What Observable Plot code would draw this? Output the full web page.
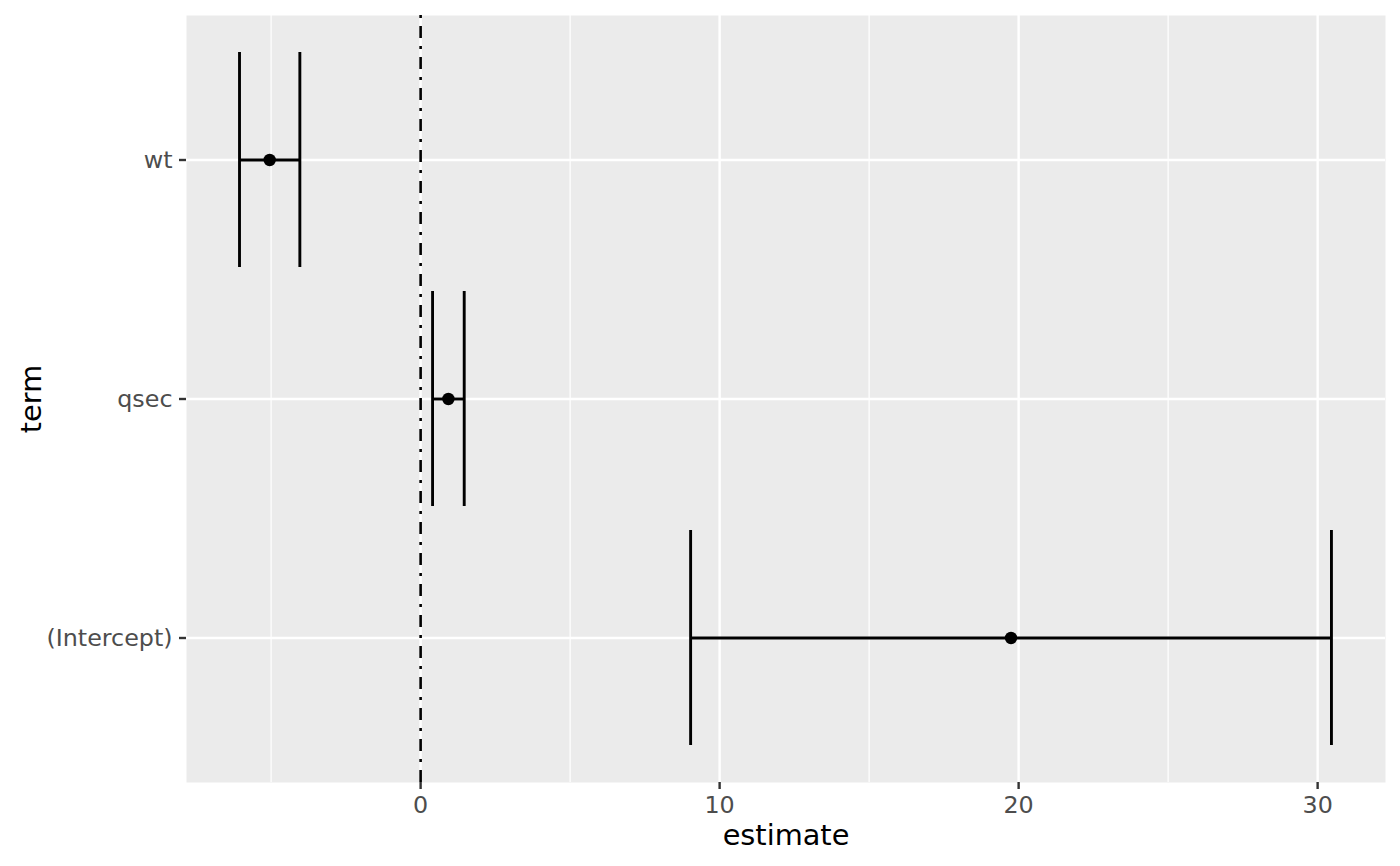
<!DOCTYPE html>
<html>
<head>
<meta charset="utf-8">
<script src="https://cdn.jsdelivr.net/npm/d3@7"></script>
<script src="https://cdn.jsdelivr.net/npm/@observablehq/plot@0.6"></script>
<style>
  body { margin: 0; background: #fff; }
</style>
</head>
<body>
<div id="chart"></div>
<script>
// coeficientes del modelo (term, estimate, intervalo de confianza)
const terms = ["(Intercept)", "wt", "qsec"];
const estimate = [19.746, -5.048, 0.929];
const confLow = [9.030, -6.057, 0.400];
const confHigh = [30.462, -4.039, 1.458];

const termOrder = ["wt", "qsec", "(Intercept)"]; // de arriba hacia abajo
const xTicks = [0, 10, 20, 30];
const xMinor = [-5, 5, 15, 25];

const coefs = terms.map((t, i) => ({
  term: t,
  estimate: estimate[i],
  low: confLow[i],
  high: confHigh[i]
}));

const font = "DejaVu Sans";

const chart = Plot.plot({
  width: 1400,
  height: 866,
  marginLeft: 186,
  marginRight: 15,
  marginTop: 15,
  marginBottom: 84,
  style: { fontFamily: font, background: "#fff" },
  x: { domain: [-7.83, 32.27] },
  y: { type: "band", domain: termOrder, paddingInner: 0.1, paddingOuter: 0.15 },
  marks: [
    Plot.frame({ fill: "#EBEBEB", stroke: null }),
    // grilla
    Plot.ruleX(xMinor, { stroke: "white", strokeWidth: 1.2 }),
    Plot.ruleX(xTicks, { stroke: "white", strokeWidth: 2.4 }),
    Plot.ruleY(termOrder, { y: d => d, stroke: "white", strokeWidth: 2.4 }),
    // linea en cero (dotdash)
    Plot.ruleX([0], { stroke: "black", strokeWidth: 2.6, strokeDasharray: "3,8,12,8" }),
    // barras de error
    Plot.ruleY(coefs, { y: "term", x1: "low", x2: "high", stroke: "black", strokeWidth: 2.9 }),
    Plot.tickX(coefs, { x: "low", y: "term", stroke: "black", strokeWidth: 2.9 }),
    Plot.tickX(coefs, { x: "high", y: "term", stroke: "black", strokeWidth: 2.9 }),
    Plot.dot(coefs, { x: "estimate", y: "term", r: 6.2, fill: "black", stroke: null }),
    // ejes
    Plot.axisX({
      ticks: xTicks,
      tickSize: 7,
      tickPadding: 7,
      stroke: "#333333",
      strokeWidth: 2.4,
      fill: "#4D4D4D",
      fontSize: 23.8,
      label: null
    }),
    Plot.axisY({
      tickSize: 7,
      tickPadding: 7,
      stroke: "#333333",
      strokeWidth: 2.4,
      fill: "#4D4D4D",
      fontSize: 23.8,
      label: null
    }),
    Plot.text(["estimate"], {
      text: d => d,
      frameAnchor: "bottom",
      textAnchor: "middle",
      lineAnchor: "middle",
      dy: 53,
      fontSize: 28.8,
      fill: "black"
    }),
    Plot.text(["term"], {
      text: d => d,
      frameAnchor: "left",
      textAnchor: "middle",
      lineAnchor: "middle",
      dx: -155,
      rotate: -90,
      fontSize: 28.8,
      fill: "black"
    })
  ]
});

d3.select("#chart").append(() => chart);
</script>
</body>
</html>
